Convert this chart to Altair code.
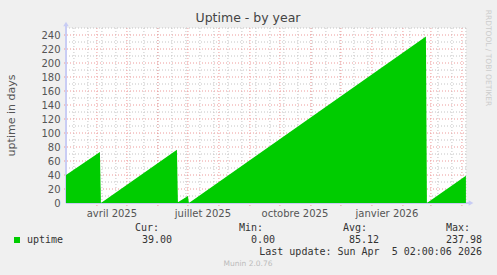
import altair as alt
import pandas as pd

# ---- data ----
dates = ["2025-03-01", "2025-04-04", "2025-04-05", "2025-06-20", "2025-06-21",
         "2025-07-01", "2025-07-02", "2026-02-24", "2026-02-25", "2026-04-05"]
uptime_days = [40, 73, 0, 76, 1, 10, 0, 238, 0, 39]

month_label_dates = ["2025-04-16", "2025-07-16", "2025-10-16", "2026-01-16"]
month_labels = ["avril 2025", "juillet 2025", "octobre 2025", "janvier 2026"]

month_starts = ["2025-04-01", "2025-05-01", "2025-06-01", "2025-07-01", "2025-08-01",
                "2025-09-01", "2025-10-01", "2025-11-01", "2025-12-01", "2026-01-01",
                "2026-02-01", "2026-03-01", "2026-04-01"]
minor_x = [d.strftime("%Y-%m-%d") for d in pd.date_range("2025-03-09", "2026-04-05", freq="14D")]
major_y = list(range(20, 241, 20))
minor_y = list(range(10, 251, 20))
y_ticks = list(range(0, 241, 20))

legend_name = "uptime"
stat_headers = ["Cur:", "Min:", "Avg:", "Max:"]
stat_values = ["39.00", "0.00", "85.12", "237.98"]
last_update = "Last update: Sun Apr  5 02:00:06 2026"
title_text = "Uptime - by year"
y_title = "uptime in days"
footer = "Munin 2.0.76"
side_text = "RRDTOOL / TOBI OETIKER"

# ---- styling / layout ----
W, H = 400, 175
GREEN = "#00CC00"
AXIS_BLUE = "#C8CCF4"
SANS = "DejaVu Sans"
MONO = "DejaVu Sans Mono"
MINOR_COL = "#C4C4C4"
MAJOR_COL = "#EE9A9A"

xscale = alt.Scale(type="utc",
                   domain=[alt.DateTime(year=2025, month=3, date=1, hours=2, utc=True),
                           alt.DateTime(year=2026, month=4, date=5, hours=2, utc=True)])
yscale = alt.Scale(domain=[0, 250], nice=False)
yaxis = alt.Axis(values=y_ticks, title=None, grid=False, domain=False,
                 ticks=False, labelPadding=6, labelFont=SANS,
                 labelFontSize=10, labelColor="#555555")

def iso(d):
    return d + "T00:00:00Z"

area_df = pd.DataFrame({"date": [iso(d) for d in dates], "uptime": uptime_days})
mstart_df = pd.DataFrame({"date": [iso(d) for d in month_starts]})
minorx_df = pd.DataFrame({"date": [iso(d) for d in minor_x]})
majory_df = pd.DataFrame({"v": major_y})
minory_df = pd.DataFrame({"v": minor_y})
mlabel_df = pd.DataFrame({"date": [iso(d) for d in month_label_dates], "label": month_labels})

minor_x_rules = alt.Chart(minorx_df).mark_rule(color=MINOR_COL, strokeDash=[1, 2], strokeWidth=1).encode(
    x=alt.X("date:T", scale=xscale, axis=None), y=alt.value(0), y2=alt.value(H + 2))
major_x_rules = alt.Chart(mstart_df).mark_rule(color=MAJOR_COL, strokeDash=[1, 2], strokeWidth=1).encode(
    x=alt.X("date:T", scale=xscale, axis=None), y=alt.value(0), y2=alt.value(H + 3))
minor_y_rules = alt.Chart(minory_df).mark_rule(color=MINOR_COL, strokeDash=[1, 2], strokeWidth=1).encode(
    y=alt.Y("v:Q", scale=yscale, axis=yaxis), x=alt.value(0), x2=alt.value(W))
major_y_rules = alt.Chart(majory_df).mark_rule(color=MAJOR_COL, strokeDash=[1, 2], strokeWidth=1).encode(
    y=alt.Y("v:Q", scale=yscale, axis=yaxis), x=alt.value(-2), x2=alt.value(W))

area = alt.Chart(area_df).mark_area(color=GREEN, interpolate="linear", clip=True, opacity=1).encode(
    x=alt.X("date:T", scale=xscale, axis=None),
    y=alt.Y("uptime:Q", scale=yscale, axis=yaxis),
)

# axis lines with arrows
left_line = alt.Chart(area_df).mark_rule(color=AXIS_BLUE, strokeWidth=1).encode(
    x=alt.value(0), y=alt.value(-3), y2=alt.value(H))
bottom_line = alt.Chart(area_df).mark_rule(color=AXIS_BLUE, strokeWidth=1).encode(
    x=alt.value(0), x2=alt.value(W + 4), y=alt.value(H))
up_arrow = alt.Chart(area_df.head(1)).mark_point(shape="triangle-up", filled=True, color=AXIS_BLUE,
                                                 size=30, opacity=1).encode(
    x=alt.value(0), y=alt.value(-4))
right_arrow = alt.Chart(area_df.head(1)).mark_point(shape="triangle-right", filled=True, color=AXIS_BLUE,
                                                    size=30, opacity=1).encode(
    x=alt.value(W + 5), y=alt.value(H))

month_text = alt.Chart(mlabel_df).mark_text(font=SANS, fontSize=10, color="#555555",
                                            align="center", baseline="alphabetic").encode(
    x=alt.X("date:T", scale=xscale, axis=None), y=alt.value(H + 13.5), text="label:N")

one = pd.DataFrame({"k": [0]})

def txt(s, x, y, **kw):
    return alt.Chart(one).mark_text(text=s, **kw).encode(x=alt.value(x), y=alt.value(y))

layers = [minor_x_rules, minor_y_rules, major_x_rules, major_y_rules,
          left_line, bottom_line, up_arrow, right_arrow, area, month_text]

layers.append(txt(title_text, 182, -6, font=SANS, fontSize=12.5, color="#444444",
                  align="center", baseline="alphabetic"))
layers.append(txt(y_title, -54, H / 2, font=SANS, fontSize=11, color="#555555",
                  align="center", baseline="middle", angle=270))

# legend
layers.append(alt.Chart(one).mark_rect(color=GREEN).encode(
    x=alt.value(-52), x2=alt.value(-46), y=alt.value(209), y2=alt.value(215)))
layers.append(txt(legend_name, -39, 215, font=MONO, fontSize=10, color="#333333",
                  align="left", baseline="alphabetic"))
header_x = [93, 197, 301, 404]
value_x = [106, 209, 313, 416]
for h, xx in zip(stat_headers, header_x):
    layers.append(txt(h, xx, 203, font=MONO, fontSize=10, color="#333333",
                      align="right", baseline="alphabetic"))
for v, xx in zip(stat_values, value_x):
    layers.append(txt(v, xx, 215, font=MONO, fontSize=10, color="#333333",
                      align="right", baseline="alphabetic"))
layers.append(txt(last_update.replace("  ", " \u00a0"), 416, 227, font=MONO, fontSize=10,
                  color="#333333", align="right", baseline="alphabetic"))
layers.append(txt(footer, 182, 238, font=SANS, fontSize=7.5, color="#BBBBBB",
                  align="center", baseline="alphabetic"))
layers.append(txt(side_text, 422, 30, font=SANS, fontSize=7.5, color="#CCCCCC",
                  align="center", baseline="middle", angle=90))

chart = alt.layer(*layers).properties(
    width=W, height=H,
    autosize=alt.AutoSizeParams(type="none"),
    padding={"left": 66, "top": 28, "right": 31, "bottom": 72},
    background="#F0F0F0",
).configure_view(fill="white", stroke=None)

chart.save("out.html", embed_options={"renderer": "svg", "actions": False})
